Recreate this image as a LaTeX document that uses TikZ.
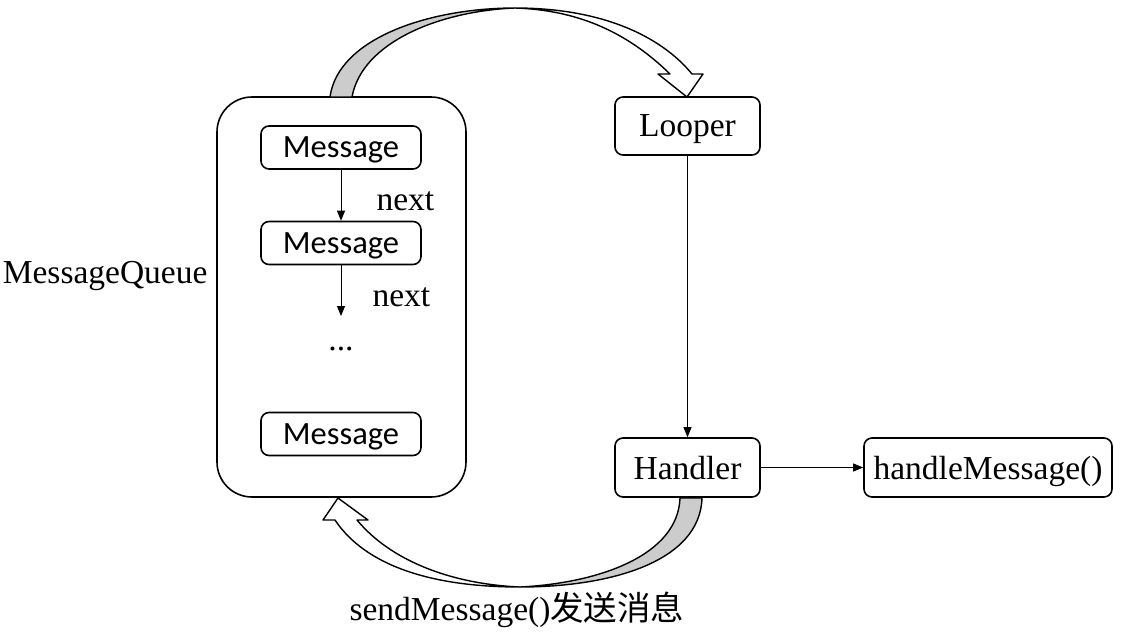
\documentclass[tikz,border=0pt]{standalone}
\usepackage{fontspec}
\setmainfont{Liberation Serif}
\newfontfamily\calfont{Carlito}
\newfontfamily\cjk{Noto Sans CJK SC}
\usetikzlibrary{arrows.meta}
\begin{document}
\begin{tikzpicture}[x=1pt,y=-1pt,
  box/.style={draw,line width=1.6pt,rounded corners=#1,inner sep=0pt,text depth=0pt},
  box/.default=8pt,
  msg/.style={box=8pt,minimum width=160pt,minimum height=43pt,font=\calfont\fontsize{32.5}{38}\selectfont},
  tm/.style={font=\fontsize{33.5}{40}\selectfont},
  arr/.style={-{Triangle[length=10pt,width=8pt]},line width=0.9pt},
  band/.style={draw,line width=1.4pt,line join=round}]
\useasboundingbox (0,0) rectangle (1123,635);
% MessageQueue container
\node[box=35pt,minimum width=249pt,minimum height=400pt] (mq) at (341.5,297) {};
\node[tm,anchor=base east] (mqlabel) at (211,283) {MessageQueue};
\node[msg] (m1) at (341,147.5) {Message};
\node[msg] (m2) at (341,243) {Message};
\node[tm,anchor=base] (dots) at (341,350) {...};
\node[msg] (m3) at (341,434) {Message};
\coordinate (d2) at (341,316);
\draw[arr] (m1) -- (m2);
\node[tm,anchor=base west] (n1) at (373,210) {next};
\draw[arr] (m2) -- (d2);
\node[tm,anchor=base west] (n2) at (369,306) {next};
% right side
\node[box=8pt,tm,minimum width=145pt,minimum height=58pt] (looper) at (687.5,126) {Looper};
\node[box=8pt,tm,minimum width=145pt,minimum height=59pt] (handler) at (687.5,467.5) {Handler};
\node[box=8pt,tm,minimum width=248pt,minimum height=59pt] (hm) at (988,467.5) {handleMessage()};
\draw[arr] (looper) -- (handler);
\draw[arr] (handler) -- (hm);
% top curved block arrow
\draw[band,fill=black!20] (330,97) .. controls (338,38) and (430,8) .. (515,8)
  .. controls (440,11) and (362,42) .. (352,97) -- cycle;
\draw[band,fill=white] (515,8) .. controls (600,8) and (660,35) .. (692,74)
  -- (703,74) -- (687,97) -- (658,74) -- (670,74)
  .. controls (625,30) and (575,10) .. (515,8) -- cycle;
% bottom curved block arrow
\draw[band,fill=black!20] (702,498) .. controls (700,562) and (610,587) .. (520,587)
  .. controls (600,583) and (678,555) .. (680,498) -- cycle;
\draw[band,fill=white] (520,587) .. controls (430,587) and (365,565) .. (335,520)
  -- (323,520) -- (338,498) -- (368,520) -- (357,520)
  .. controls (390,560) and (450,584) .. (520,587) -- cycle;
\node[tm,anchor=base] (send) at (517,620) {sendMessage()\cjk 发送消息};
\end{tikzpicture}
\end{document}
